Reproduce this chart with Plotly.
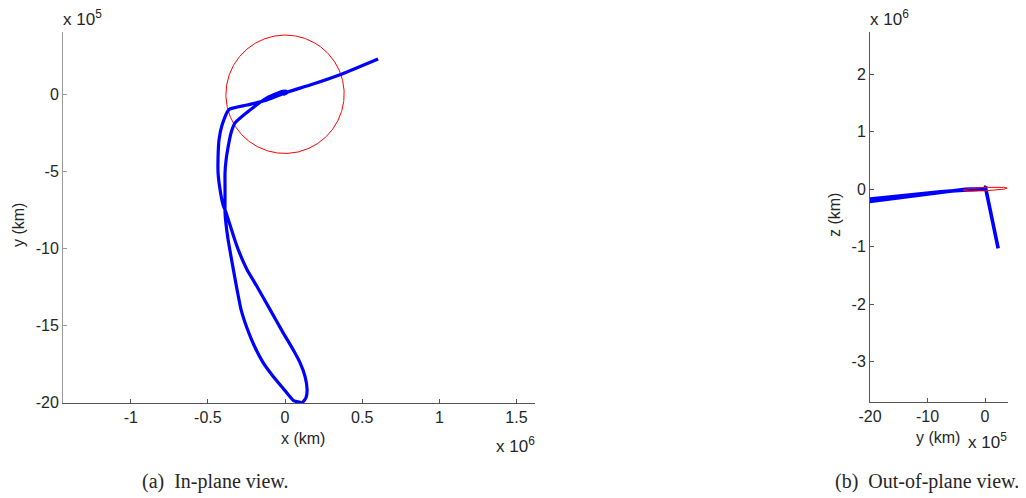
import numpy as np
import plotly.graph_objects as go

# ---------------- data (trajectory, in units of 1e5 km) ----------------
UNIT_KM = 1e5

traj_x = [6.03, 3.69, 1.62, 0.19, -1.17, -2.46, -3.63,
          -4.08, -4.28, -4.34, -4.34, -4.21, -4.02, -3.82, -3.26, -2.98, -2.46, -1.81, -0.97,
          -0.13, 0.52, 0.97, 1.30, 1.43, 1.36, 1.12,
          0.55, -0.13, -0.78, -1.43, -2.01, -2.46, -2.85, -3.11, -3.43, -3.69, -3.82, -3.89,
          -3.89, -3.89, -3.89, -3.82, -3.69, -3.50, -3.24, -2.27, -1.17, -0.45, -0.15, 0.08, 0.10, -0.12]
traj_y = [2.29, 1.32, 0.60, 0.15, -0.37, -0.70, -0.99,
          -2.00, -2.96, -4.06, -5.10, -6.20, -7.17, -7.69, -9.44, -10.22, -11.39, -12.49, -13.98,
          -15.47, -16.57, -17.42, -18.33, -19.17, -19.69, -20.00,
          -19.88, -19.08, -18.30, -17.40, -16.29, -15.19, -13.98, -12.68, -10.93, -9.44, -8.47, -7.69,
          -6.85, -6.01, -5.10, -4.26, -3.42, -2.51, -1.86, -1.02, -0.24, 0.08, 0.19, 0.20, 0.08, -0.02]
traj_z = [-10.30, -5.37, -1.52, 0.00, 0.05, 0.03, 0.00,
          -0.02, -0.03, -0.11, -0.21, -0.32, -0.42, -0.47, -0.65, -0.73, -0.85, -0.96, -1.11,
          -1.26, -1.37, -1.46, -1.55, -1.63, -1.69, -1.72,
          -2.13, -2.02, -1.93, -1.81, -1.67, -1.53, -1.38, -1.21, -0.99, -0.80, -0.67, -0.57,
          -0.46, -0.35, -0.23, -0.12, -0.02, 0.00, 0.00, 0.02, 0.05, 0.25, 0.45, 0.55, 0.40, 0.15]

# Moon orbit (red)
MOON_ORBIT_RADIUS_KM = 384400
MOON_INCLINATION_DEG = 5.1
MOON_NODE_DEG = 60

# tick labels
xa_ticks = [-1, -0.5, 0, 0.5, 1, 1.5]      # x 10^6
ya_ticks = [-20, -15, -10, -5, 0]          # x 10^5
yb_ticks = [-20, -10, 0]                   # x 10^5
zb_ticks = [-3, -2, -1, 0, 1, 2]           # x 10^6

# ---------------- geometry helpers ----------------
tx = np.array(traj_x) * UNIT_KM
ty = np.array(traj_y) * UNIT_KM
tz = np.array(traj_z) * UNIT_KM

t = np.linspace(0, 2 * np.pi, 361)
inc = np.radians(MOON_INCLINATION_DEG)
node = np.radians(MOON_NODE_DEG)
px0 = MOON_ORBIT_RADIUS_KM * np.cos(t)
py0 = MOON_ORBIT_RADIUS_KM * np.sin(t) * np.cos(inc)
pz0 = MOON_ORBIT_RADIUS_KM * np.sin(t) * np.sin(inc)
mx = px0 * np.cos(node) - py0 * np.sin(node)
my = px0 * np.sin(node) + py0 * np.cos(node)
mz = pz0

# page body has an 8px default margin: the figure is drawn at (8, 8)
OFF = 8
W, H = 1018, 490


def fx(px):
    return (px - OFF) / W


def fy(py):
    return (H - (py - OFF)) / H


BLUE = "#0000ff"
RED = "#ff0000"
FONT = "Liberation Sans, Arial, sans-serif"
SERIF = "Liberation Serif, Times New Roman, serif"
TXT = "#262626"

fig = go.Figure()
fig.add_trace(go.Scatter(x=mx, y=my, mode="lines", line=dict(color=RED, width=1),
                         xaxis="x", yaxis="y", hoverinfo="skip"))
fig.add_trace(go.Scatter(x=tx, y=ty, mode="lines",
                         line=dict(color=BLUE, width=3.2, shape="spline", smoothing=0.5),
                         xaxis="x", yaxis="y"))
fig.add_trace(go.Scatter(x=ty, y=tz, mode="lines", line=dict(color=BLUE, width=3.6),
                         xaxis="x2", yaxis="y2"))
fig.add_trace(go.Scatter(x=my, y=mz, mode="lines", line=dict(color=RED, width=1),
                         xaxis="x2", yaxis="y2", hoverinfo="skip"))


def axis_style(domain, rng, vals, mult, linecolor, anchor):
    return dict(
        domain=domain, range=rng, anchor=anchor, automargin=False,
        tickmode="array", tickvals=[v * mult for v in vals], ticktext=[f"{v:g}" for v in vals],
        ticks="inside", ticklen=4, tickwidth=1, tickcolor=linecolor,
        showline=True, linecolor=linecolor, linewidth=1,
        showgrid=False, zeroline=False, mirror=False,
        tickfont=dict(family=FONT, size=16, color=TXT),
    )


fig.update_layout(
    width=W, height=H, autosize=False,
    margin=dict(l=0, r=0, t=0, b=0, pad=0, autoexpand=False),
    paper_bgcolor="white", plot_bgcolor="white",
    showlegend=False,
    xaxis=axis_style([fx(63), fx(535)], [-1.439e6, 1.62e6], xa_ticks, 1e6, "#555555", "y"),
    yaxis=axis_style([fy(403), fy(31.7)], [-2.004e6, 4.06e5], ya_ticks, 1e5, "#9a9a9a", "x"),
    xaxis2=axis_style([fx(870), fx(1008)], [-2.0e6, 0.4e6], yb_ticks, 1e5, "#555555", "y2"),
    yaxis2=axis_style([fy(401.7), fy(31.7)], [-3.70e6, 2.74e6], zb_ticks, 1e6, "#555555", "x2"),
)


def ann(text, x, y, size=16, family=FONT, xanchor="center", yanchor="middle", angle=0):
    fig.add_annotation(text=text, x=fx(x), y=fy(y), xref="paper", yref="paper",
                       showarrow=False, xanchor=xanchor, yanchor=yanchor, textangle=angle,
                       font=dict(family=family, size=size, color=TXT))


# axis titles
ann("x (km)", 303, 438)
ann("y (km)", 18, 225, angle=-90)
ann("y (km)", 938, 437)
ann("z (km)", 835, 215, angle=-90)

# exponent labels
ann("x 10<sup>5</sup>", 61, 18, size=17, xanchor="left")
ann("x 10<sup>6</sup>", 494, 445, size=17, xanchor="left")
ann("x 10<sup>6</sup>", 868, 18, size=17, xanchor="left")
ann("x 10<sup>5</sup>", 966, 441, size=17, xanchor="left")

# captions
ann("(a)\u00a0\u00a0In-plane view.", 215, 481, size=20, family=SERIF)
ann("(b)\u00a0\u00a0Out-of-plane view.", 927, 481, size=20, family=SERIF)

fig.write_html("out.html")
